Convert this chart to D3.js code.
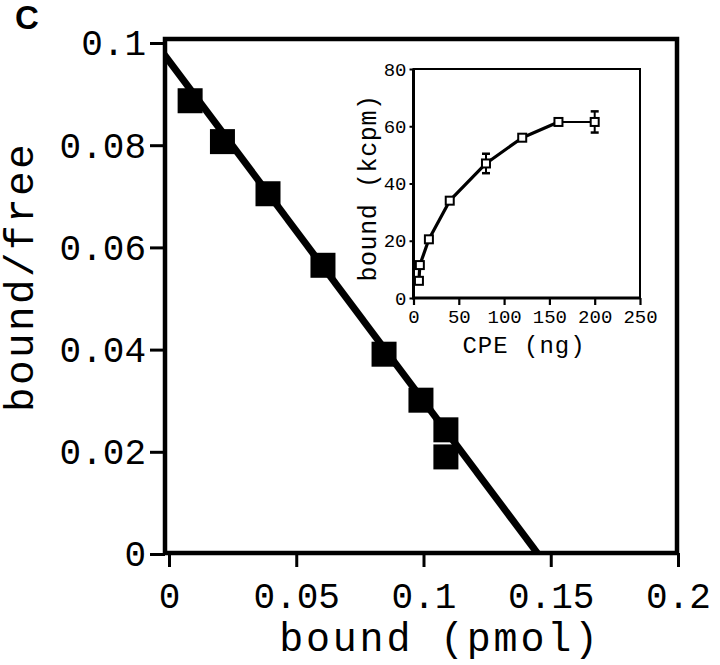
<!DOCTYPE html>
<meta charset="utf-8">
<style>
body { margin: 0; background: #fff; }
svg { display: block; }
.mono { font-family: "Liberation Mono", "Courier New", monospace; fill: #000; }
.axis text { font-family: "Liberation Mono", "Courier New", monospace; fill: #000; }
.axis path { display: none; }
</style>
<body>
<script src="https://d3js.org/d3.v7.min.js"></script>
<script>
// main Scatchard plot: bound (pmol) vs bound/free
var boundPmol = [0.0083, 0.0210, 0.0389, 0.0605, 0.0845, 0.0990, 0.1088, 0.1088];
var boundFree = [0.0887, 0.0807, 0.0705, 0.0565, 0.0391, 0.0301, 0.0243, 0.0190];
// fitted line: intercepts on both axes
var fitYIntercept = 0.0965;
var fitXIntercept = 0.145;

var xTicks = [0, 0.05, 0.1, 0.15, 0.2];
var xTickLabels = ["0", "0.05", "0.1", "0.15", "0.2"];
var yTicks = [0, 0.02, 0.04, 0.06, 0.08, 0.1];
var yTickLabels = ["0", "0.02", "0.04", "0.06", "0.08", "0.1"];

// inset: CPE (ng) vs bound (kcpm)
var cpeNg = [6, 7, 17, 40, 80, 120, 160, 200];
var boundKcpm = [6, 11.5, 20.5, 34, 47, 56, 61.5, 61.5];
var boundErr = [0, 0, 0, 0, 3.4, 0, 0, 3.7];
var insetXTicks = [0, 50, 100, 150, 200, 250];
var insetYTicks = [0, 20, 40, 60, 80];

var svg = d3.select("body").append("svg")
    .attr("width", 720)
    .attr("height", 665);

// panel letter
svg.append("text")
    .attr("x", 15).attr("y", 29)
    .style("font-family", "'Liberation Sans', Arial, sans-serif")
    .style("font-weight", "bold")
    .style("font-size", "33px")
    .text("C");

// scales
var x = d3.scaleLinear().domain([0, 0.2]).range([169, 678]);
var y = d3.scaleLinear().domain([0, 0.1]).range([554, 43]);

var frame = {left: 165, top: 39, right: 677, bottom: 553};

svg.append("defs").append("clipPath").attr("id", "clip")
  .append("rect")
    .attr("x", frame.left).attr("y", frame.top)
    .attr("width", frame.right - frame.left)
    .attr("height", frame.bottom - frame.top);

// axes
var yAxis = svg.append("g")
    .attr("class", "axis")
    .attr("transform", "translate(" + frame.left + ",0)")
    .call(d3.axisLeft(y).tickValues(yTicks)
        .tickFormat(function(d, i) { return yTickLabels[i]; })
        .tickSize(15).tickPadding(4));
yAxis.selectAll("line").attr("stroke", "#000").attr("stroke-width", 3);
yAxis.selectAll("text").style("font-size", "36px").attr("dy", "0.33em");

var xAxis = svg.append("g")
    .attr("class", "axis")
    .attr("transform", "translate(0," + frame.bottom + ")")
    .call(d3.axisBottom(x).tickValues(xTicks)
        .tickFormat(function(d, i) { return xTickLabels[i]; })
        .tickSize(14).tickPadding(15));
xAxis.selectAll("line").attr("stroke", "#000").attr("stroke-width", 3);
xAxis.selectAll("text").style("font-size", "36px");

// frame
svg.append("rect")
    .attr("x", frame.left).attr("y", frame.top)
    .attr("width", frame.right - frame.left)
    .attr("height", frame.bottom - frame.top)
    .attr("fill", "none")
    .attr("stroke", "#000")
    .attr("stroke-width", 4.5);

// axis titles
svg.append("text")
    .attr("class", "mono")
    .attr("x", 440).attr("y", 651)
    .attr("text-anchor", "middle")
    .style("font-size", "40px")
    .style("letter-spacing", "2.8px")
    .text("bound (pmol)");

svg.append("text")
    .attr("class", "mono")
    .attr("transform", "translate(33,277) rotate(-90)")
    .attr("text-anchor", "middle")
    .style("font-size", "41px")
    .style("letter-spacing", "2.4px")
    .text("bound/free");

// fit line
var fitLine = d3.line()
    .x(function(d) { return x(d[0]); })
    .y(function(d) { return y(d[1]); });
svg.append("path")
    .datum([[-0.002, fitYIntercept + 0.002 * fitYIntercept / fitXIntercept], [fitXIntercept + 0.003, -0.003 * fitYIntercept / fitXIntercept]])
    .attr("clip-path", "url(#clip)")
    .attr("d", fitLine)
    .attr("fill", "none")
    .attr("stroke", "#000")
    .attr("stroke-width", 7);

// data squares
var sq = 25;
svg.selectAll(".pt")
    .data(boundPmol)
  .enter().append("rect")
    .attr("class", "pt")
    .attr("x", function(d) { return x(d) - sq / 2; })
    .attr("y", function(d, i) { return y(boundFree[i]) - sq / 2; })
    .attr("width", sq).attr("height", sq)
    .attr("fill", "#000");

// ---------- inset ----------
var ix = d3.scaleLinear().domain([0, 250]).range([413.5, 640]);
var iy = d3.scaleLinear().domain([0, 80]).range([298, 69]);

var iyAxis = svg.append("g")
    .attr("class", "axis")
    .attr("transform", "translate(413.5,0)")
    .call(d3.axisLeft(iy).tickValues(insetYTicks).tickSize(4).tickPadding(3));
iyAxis.selectAll("line").attr("stroke", "#000").attr("stroke-width", 2);
iyAxis.selectAll("text").style("font-size", "19px");

var ixAxis = svg.append("g")
    .attr("class", "axis")
    .attr("transform", "translate(0,298)")
    .call(d3.axisBottom(ix).tickValues(insetXTicks).tickSize(7).tickPadding(5));
ixAxis.selectAll("line").attr("stroke", "#000").attr("stroke-width", 2.2);
ixAxis.selectAll("text").style("font-size", "19px");

// inset frame: heavier left/bottom
svg.append("path")
    .attr("d", "M" + ix(0) + "," + iy(0) + "H" + ix(250) + "V" + iy(80) + "H" + ix(0) + "Z")
    .attr("fill", "none")
    .attr("stroke", "#000")
    .attr("stroke-width", 2);
svg.append("path")
    .attr("d", "M" + ix(0) + "," + iy(80) + "V" + iy(0) + "H" + ix(250))
    .attr("fill", "none")
    .attr("stroke", "#000")
    .attr("stroke-width", 3);

var insetData = cpeNg.map(function(c, i) { return {c: c, b: boundKcpm[i], e: boundErr[i]}; });
var insetLine = d3.line()
    .x(function(d) { return ix(d.c); })
    .y(function(d) { return iy(d.b); });

svg.append("path")
    .datum(insetData.slice(0, 7))
    .attr("d", insetLine)
    .attr("fill", "none")
    .attr("stroke", "#000")
    .attr("stroke-width", 3.2)
    .attr("stroke-linejoin", "round");
svg.append("path")
    .datum(insetData.slice(6))
    .attr("d", insetLine)
    .attr("fill", "none")
    .attr("stroke", "#000")
    .attr("stroke-width", 2);

// error bars
var errs = svg.selectAll(".err")
    .data(insetData.filter(function(d) { return d.e > 0; }))
  .enter().append("g")
    .attr("class", "err")
    .attr("stroke", "#000")
    .attr("stroke-width", 2);
errs.append("line")
    .attr("x1", function(d) { return ix(d.c); })
    .attr("x2", function(d) { return ix(d.c); })
    .attr("y1", function(d) { return iy(d.b - d.e); })
    .attr("y2", function(d) { return iy(d.b + d.e); });
errs.append("line")
    .attr("x1", function(d) { return ix(d.c) - 4; })
    .attr("x2", function(d) { return ix(d.c) + 4; })
    .attr("y1", function(d) { return iy(d.b + d.e); })
    .attr("y2", function(d) { return iy(d.b + d.e); })
    .attr("stroke-width", 2.5);
errs.append("line")
    .attr("x1", function(d) { return ix(d.c) - 4; })
    .attr("x2", function(d) { return ix(d.c) + 4; })
    .attr("y1", function(d) { return iy(d.b - d.e); })
    .attr("y2", function(d) { return iy(d.b - d.e); })
    .attr("stroke-width", 2.5);

var isq = 8;
svg.selectAll(".ipt")
    .data(insetData)
  .enter().append("rect")
    .attr("class", "ipt")
    .attr("x", function(d) { return ix(d.c) - isq / 2; })
    .attr("y", function(d) { return iy(d.b) - isq / 2; })
    .attr("width", isq).attr("height", isq)
    .attr("fill", "#fff")
    .attr("stroke", "#000")
    .attr("stroke-width", 2);

// inset titles
svg.append("text")
    .attr("class", "mono")
    .attr("x", 524).attr("y", 353)
    .attr("text-anchor", "middle")
    .style("font-size", "24px")
    .style("letter-spacing", "1px")
    .text("CPE (ng)");

svg.append("text")
    .attr("class", "mono")
    .attr("transform", "translate(376,188) rotate(-90)")
    .attr("text-anchor", "middle")
    .style("font-size", "25px")
    .style("letter-spacing", "0.6px")
    .text("bound (kcpm)");
</script>
</body>
